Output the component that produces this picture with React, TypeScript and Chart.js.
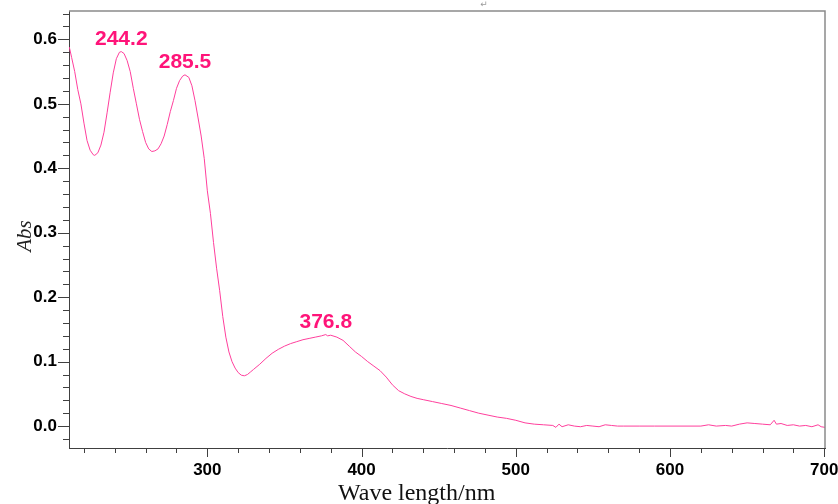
import React, { useEffect, useRef } from 'react';
import { Chart, registerables } from 'chart.js';

Chart.register(...registerables);

// ---- data ----
const wavelengths = [
  210.5, 212, 214, 216, 218, 220, 222, 224, 226, 227, 229, 231, 233, 235, 237, 239, 241, 243, 244.2, 246,
  248, 250, 252, 254, 256, 258, 260, 262, 264, 266, 268, 270, 272, 274, 276, 278, 280, 282, 284, 285.5,
  288, 290, 292, 294, 296, 298, 300, 302, 304, 306, 308, 310, 312, 314, 316, 318, 320, 322, 324, 326,
  328, 330, 334, 338, 342, 346, 350, 354, 358, 362, 366, 370, 374, 376.8, 378, 380, 384, 388, 392, 396,
  400, 404, 408, 412, 416, 420, 424, 428, 432, 436, 440, 446, 452, 458, 464, 470, 476, 482, 488, 494,
  500, 506, 512, 518, 524, 526, 528, 530, 534, 538, 542, 546, 550, 554, 558, 562, 566, 570, 580, 590,
  600, 620, 625, 630, 636, 640, 645, 650, 655, 660, 665, 667.5, 669, 672, 676, 680, 684, 688, 692, 696,
  698, 700.5,
];
const absorbance = [
  0.588, 0.572, 0.55, 0.522, 0.5, 0.47, 0.443, 0.428, 0.421, 0.42, 0.424, 0.436, 0.456, 0.486, 0.518, 0.548, 0.57, 0.58, 0.581, 0.578,
  0.567, 0.55, 0.524, 0.5, 0.476, 0.457, 0.44, 0.43, 0.426, 0.427, 0.43, 0.438, 0.45, 0.468, 0.488, 0.505, 0.524, 0.536, 0.543, 0.545,
  0.541, 0.528, 0.505, 0.478, 0.45, 0.415, 0.365, 0.33, 0.285, 0.245, 0.21, 0.17, 0.138, 0.115, 0.1, 0.09, 0.083, 0.079, 0.078, 0.08,
  0.084, 0.088, 0.096, 0.105, 0.113, 0.119, 0.124, 0.128, 0.131, 0.134, 0.136, 0.138, 0.14, 0.142, 0.14, 0.141, 0.138, 0.133, 0.124, 0.115,
  0.108, 0.1, 0.093, 0.086, 0.076, 0.064, 0.055, 0.05, 0.046, 0.043, 0.041, 0.038, 0.035, 0.032, 0.028, 0.024, 0.02, 0.017, 0.014, 0.012,
  0.009, 0.005, 0.003, 0.002, 0.001, -0.002, 0.003, -0.001, 0.002, 0.0, -0.001, 0.001, 0.0, -0.001, 0.002, 0.001, 0.0, 0.0, 0.0, 0.0,
  0.0, 0.0, 0.002, 0.0, 0.001, 0.0, 0.003, 0.005, 0.004, 0.003, 0.002, 0.009, 0.003, 0.004, 0.001, 0.002, 0.0, 0.001, -0.001, 0.002,
  -0.001, -0.002,
];

const xTickValues = [300, 400, 500, 600, 700];
const yTickValues = [0, 0.1, 0.2, 0.3, 0.4, 0.5, 0.6];
const xMinorStep = 20;
const yMinorStep = 0.02;

const peakLabels = ['244.2', '285.5', '376.8'];
const peakWavelengths = [244.2, 285.5, 376.8];
const peakAbsorbance = [0.581, 0.545, 0.142];

const xTitle = 'Wave length/nm';
const yTitle = 'Abs';

const X_MIN = 210.3;
const X_MAX = 700.5;
const Y_MIN = -0.034;
const Y_MAX = 0.644;

const LINE_COLOR = '#ff3f9c';
const LABEL_COLOR = '#ff1479';
const AXIS_COLOR = '#404040';

const zeroPadding = (s: any) => {
  s.paddingLeft = 0;
  s.paddingRight = 0;
  s.paddingTop = 0;
  s.paddingBottom = 0;
};

const decorPlugin = {
  id: 'decor',
  afterDraw(chart: any) {
    const { ctx, chartArea, scales } = chart;
    const xs = scales.x;
    const ys = scales.y;
    const { left, right, top, bottom } = chartArea;
    ctx.save();

    // top and right frame
    ctx.strokeStyle = '#8a8a8a';
    ctx.lineWidth = 1.5;
    ctx.beginPath();
    ctx.moveTo(left, top);
    ctx.lineTo(right, top);
    ctx.lineTo(right, bottom);
    ctx.stroke();

    // tick marks
    ctx.strokeStyle = AXIS_COLOR;
    ctx.lineWidth = 1;
    ctx.beginPath();
    const xStart = Math.ceil(X_MIN / xMinorStep) * xMinorStep;
    for (let v = xStart; v <= X_MAX + 1e-6; v += xMinorStep) {
      const px = Math.round(xs.getPixelForValue(v)) + 0.5;
      const major = Math.abs(v % 100) < 1e-6;
      ctx.moveTo(px, bottom);
      ctx.lineTo(px, bottom + (major ? 9 : 5));
    }
    const yStartIdx = Math.ceil(Y_MIN / yMinorStep);
    const yEndIdx = Math.floor(Y_MAX / yMinorStep);
    for (let i = yStartIdx; i <= yEndIdx; i++) {
      const v = i * yMinorStep;
      const py = Math.round(ys.getPixelForValue(v)) + 0.5;
      const major = i % 5 === 0;
      ctx.moveTo(left, py);
      ctx.lineTo(left - (major ? 11 : 6), py);
    }
    ctx.stroke();

    // peak labels
    ctx.fillStyle = LABEL_COLOR;
    ctx.font = 'bold 21px "Liberation Sans", Arial, sans-serif';
    ctx.textAlign = 'center';
    ctx.textBaseline = 'alphabetic';
    for (let i = 0; i < peakLabels.length; i++) {
      const px = xs.getPixelForValue(peakWavelengths[i]);
      const py = ys.getPixelForValue(peakAbsorbance[i]);
      ctx.fillText(peakLabels[i], px, py - 7);
    }

    // axis titles
    ctx.fillStyle = '#111';
    ctx.font = '24px "Liberation Serif", "Times New Roman", serif';
    ctx.textAlign = 'left';
    ctx.fillText(xTitle, 338, 500);

    ctx.save();
    ctx.translate(31, 236);
    ctx.rotate(-Math.PI / 2);
    ctx.font = 'italic 21px "Liberation Serif", "Times New Roman", serif';
    ctx.textAlign = 'center';
    ctx.fillStyle = '#222';
    ctx.fillText(yTitle, 0, 0);
    ctx.restore();

    // small return mark at the top
    ctx.fillStyle = '#9a9a9a';
    ctx.font = '9px "DejaVu Sans", sans-serif';
    ctx.textAlign = 'center';
    ctx.textBaseline = 'middle';
    ctx.fillText('\u21B5', 484, 5);

    ctx.restore();
  },
};

export default function App() {
  const canvasRef = useRef<HTMLCanvasElement | null>(null);

  useEffect(() => {
    const canvas = canvasRef.current;
    if (!canvas) return;
    const points = wavelengths.map((w, i) => ({ x: w, y: absorbance[i] }));
    const chart = new Chart(canvas, {
      type: 'line',
      data: {
        datasets: [
          {
            data: points,
            borderColor: LINE_COLOR,
            borderWidth: 1,
            pointRadius: 0,
            tension: 0,
            fill: false,
          },
        ],
      },
      options: {
        animation: false,
        responsive: false,
        devicePixelRatio: 1,
        layout: { padding: { left: 0, right: 13, top: 11, bottom: 0 }, autoPadding: false },
        plugins: { legend: { display: false }, tooltip: { enabled: false } },
        scales: {
          x: {
            type: 'linear',
            min: X_MIN,
            max: X_MAX,
            afterFit: (s: any) => {
              s.height = 56;
              zeroPadding(s);
            },
            afterBuildTicks: (s: any) => {
              s.ticks = xTickValues.map((v) => ({ value: v }));
            },
            grid: { display: false, drawTicks: false },
            border: { display: true, color: AXIS_COLOR, width: 1 },
            ticks: {
              autoSkip: false,
              maxRotation: 0,
              padding: 12,
              color: '#000',
              font: { family: '"Liberation Sans", Arial, sans-serif', size: 17, weight: 'bold' },
              callback: (v: any) => String(v),
            },
          },
          y: {
            type: 'linear',
            min: Y_MIN,
            max: Y_MAX,
            afterFit: (s: any) => {
              s.width = 69;
              zeroPadding(s);
            },
            afterBuildTicks: (s: any) => {
              s.ticks = yTickValues.map((v) => ({ value: v }));
            },
            grid: { display: false, drawTicks: false },
            border: { display: true, color: AXIS_COLOR, width: 1 },
            ticks: {
              autoSkip: false,
              padding: 12,
              color: '#000',
              font: { family: '"Liberation Sans", Arial, sans-serif', size: 17, weight: 'bold' },
              callback: (v: any) => Number(v).toFixed(1),
            },
          },
        },
      },
      plugins: [decorPlugin],
    });
    return () => chart.destroy();
  }, []);

  return (
    <div style={{ position: 'fixed', left: 0, top: 0, width: 838, height: 504, background: '#fff' }}>
      <canvas ref={canvasRef} width={838} height={504} style={{ display: 'block', width: 838, height: 504 }} />
    </div>
  );
}
